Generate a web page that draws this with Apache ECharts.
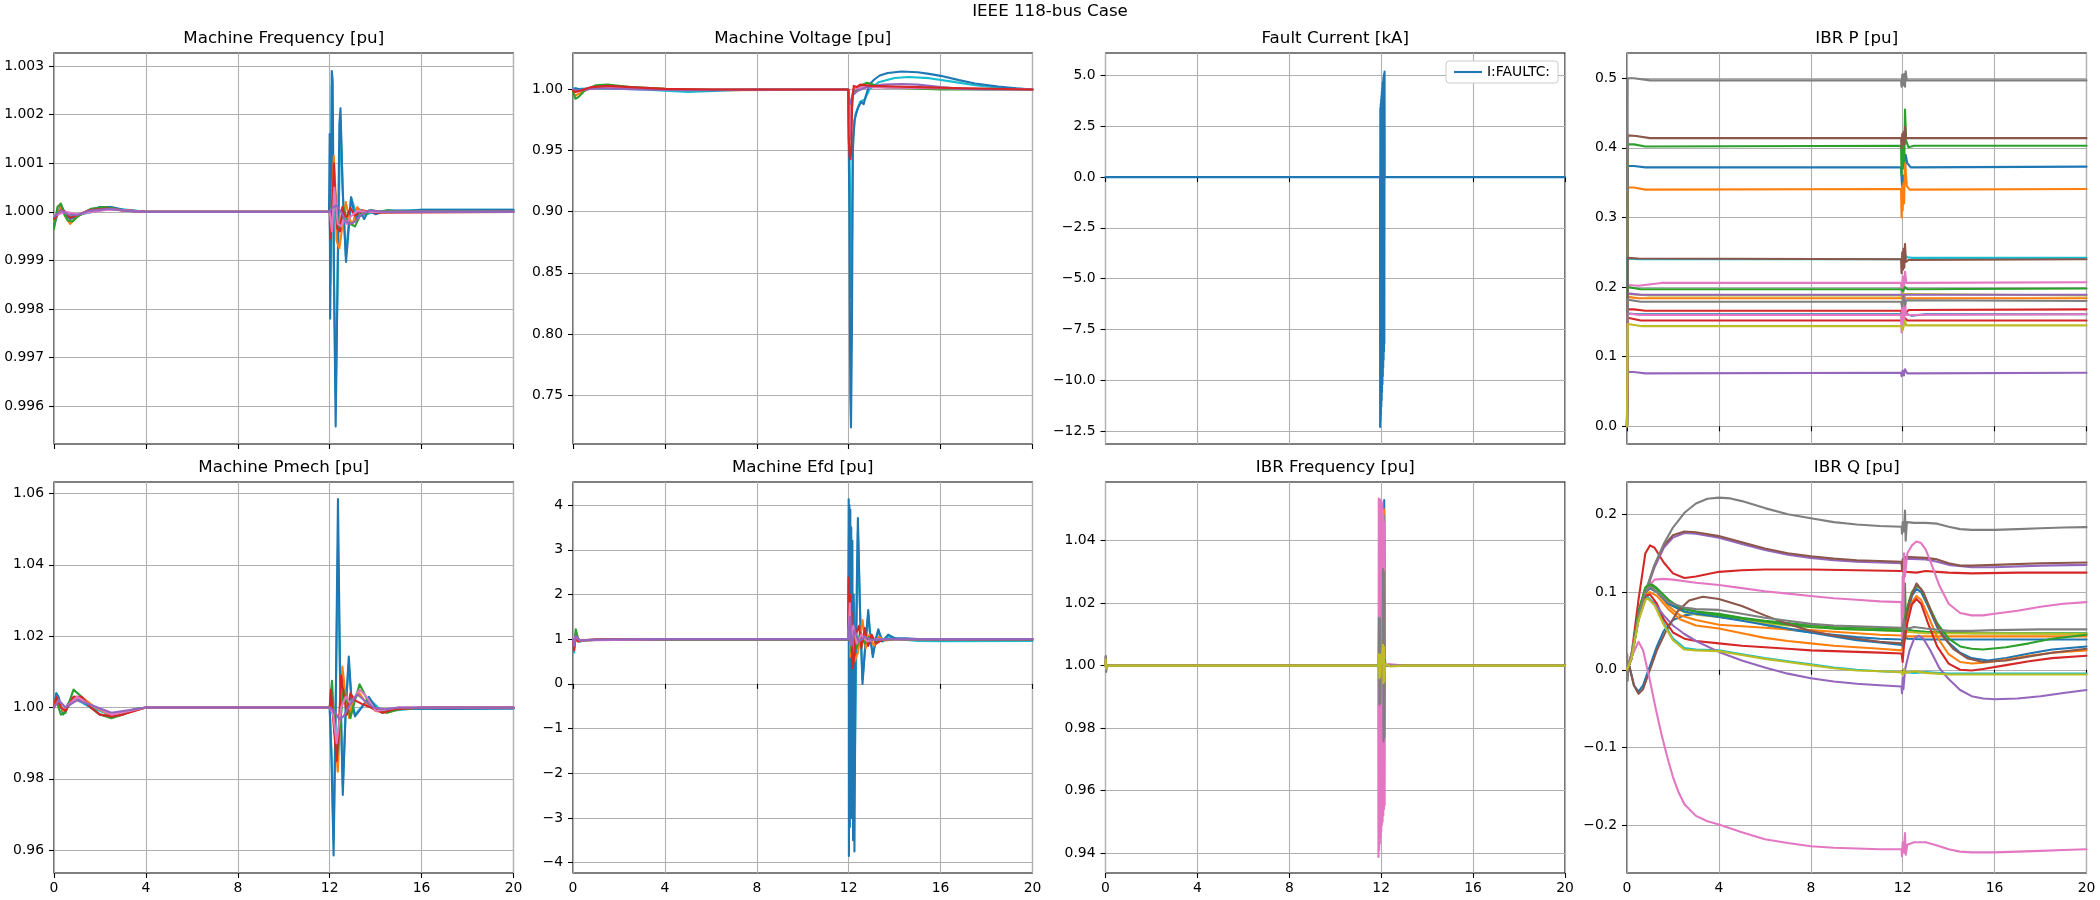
<!DOCTYPE html>
<html><head><meta charset="utf-8">
<script src="https://cdn.jsdelivr.net/npm/echarts@6/dist/echarts.min.js"></script>
<style>html,body{margin:0;padding:0;background:#fff}#c{width:2100px;height:900px}</style>
</head><body><div id="c"></div><script>
// ---------------- tick values / ranges ----------------
const xTicks = [0, 4, 8, 12, 16, 20];
const mfTicks = [0.996, 0.997, 0.998, 0.999, 1.000, 1.001, 1.002, 1.003];
const mvTicks = [0.75, 0.80, 0.85, 0.90, 0.95, 1.00];
const fcTicks = [-12.5, -10, -7.5, -5, -2.5, 0, 2.5, 5];
const ipTicks = [0, 0.1, 0.2, 0.3, 0.4, 0.5];
const pmTicks = [0.96, 0.98, 1.00, 1.02, 1.04, 1.06];
const efTicks = [-4, -3, -2, -1, 0, 1, 2, 3, 4];
const ifTicks = [0.94, 0.96, 0.98, 1.00, 1.02, 1.04];
const iqTicks = [-0.2, -0.1, 0, 0.1, 0.2];
const mfRange = [0.99522, 1.00327];
const mvRange = [0.7099, 1.0299];
const fcRange = [-13.14, 6.11];
const ipRange = [-0.0254, 0.5363];
const pmRange = [0.9536, 1.0632];
const efRange = [-4.231, 4.516];
const ifRange = [0.9336, 1.0588];
const iqRange = [-0.2615, 0.2416];

// ---------------- Machine Frequency ----------------
const mfCyan = [[0,0.9998],[0.3,1.0001],[0.6,0.9999],[1,0.99993],[2.5,1.00008],[4,1.0],[12,1.0],[12.03,0.9985],[12.09,1.0026],[12.18,0.9988],[12.26,0.9962],[12.35,0.9988],[12.47,1.0019],[12.6,1.0],[12.7,0.9991],[12.93,1.0003],[13.2,0.9999],[14,1.0],[16,1.00004],[20,1.00004]];
const mfBlue = [[0,0.9997],[0.15,0.99995],[0.3,1.00015],[0.5,0.99995],[0.7,0.99985],[1.0,0.9999],[1.5,1.00002],[2.0,1.0001],[2.5,1.0001],[3.0,1.00004],[4,1.0],[11.97,1.0],[12.0,1.0016],[12.02,0.9978],[12.05,0.9992],[12.09,1.0029],[12.13,1.0027],[12.19,0.9985],[12.26,0.99558],[12.34,0.9985],[12.42,1.0018],[12.47,1.00213],[12.56,1.0005],[12.71,0.99897],[12.82,0.9996],[12.93,1.0003],[13.05,1.0],[13.15,0.99985],[13.3,1.00005],[13.5,0.99985],[13.7,1.00003],[14,0.99995],[14.5,1.00003],[15.5,1.00002],[16,1.00004],[20,1.00004]];
const mfOrange = [[0,0.9998],[0.3,1.0001],[0.5,0.9999],[0.7,0.99975],[1,0.9999],[1.5,1.00003],[2.2,1.00009],[3,1.00003],[4,1.0],[12,1.0],[12.05,0.9996],[12.1,1.0003],[12.18,1.00115],[12.25,1.0004],[12.3,0.9994],[12.42,0.99925],[12.55,0.9997],[12.7,1.0002],[12.85,0.99985],[13.0,0.99975],[13.2,1.0001],[13.4,0.99995],[13.8,1.00002],[14.5,1.0],[20,1.0]];
const mfGreen = [[0,0.99965],[0.15,1.0001],[0.3,1.00017],[0.45,0.99995],[0.6,0.99982],[0.8,0.9998],[1.1,0.99993],[1.6,1.00006],[2.2,1.0001],[3,1.00003],[4,1.0],[12,1.0],[12.04,0.99985],[12.1,1.0002],[12.2,1.0006],[12.3,1.0],[12.45,0.9996],[12.6,1.0001],[12.75,0.99985],[12.9,0.99975],[13.1,0.9997],[13.25,0.99985],[13.4,1.00003],[13.6,0.99995],[13.8,1.00004],[14.1,1.0],[14.5,1.00003],[15,1.0],[20,1.0]];
const mfRed = [[0,0.99985],[0.3,1.00003],[0.5,1.0],[0.7,0.99988],[1,0.99993],[1.5,1.00003],[2.3,1.00007],[3,1.00003],[4,1.0],[12,1.0],[12.02,0.99945],[12.08,0.9997],[12.18,1.001],[12.25,1.0003],[12.33,0.99965],[12.45,0.9996],[12.55,1.0001],[12.65,0.9999],[12.75,0.9999],[12.9,1.00008],[13.1,0.99992],[13.4,1.00003],[14,0.99998],[20,1.0]];
const mfPink = [[0,0.99992],[0.5,1.0],[1,0.99995],[2.4,1.00005],[4,1.0],[12,1.0],[12.1,0.9996],[12.2,1.0005],[12.35,0.99975],[12.5,0.9997],[12.6,0.99985],[12.75,0.99975],[12.9,0.9999],[13.2,1.00002],[13.6,1.0],[20,1.0]];
const mfPurple = [[0,0.9999],[0.3,1.00003],[0.6,0.99995],[1,0.99993],[1.5,1.00002],[2.4,1.00006],[3.2,1.00002],[4,1.0],[12,1.0],[12.1,1.00008],[12.3,1.00013],[12.5,1.0],[12.7,0.9998],[12.9,0.99975],[13.1,0.9998],[13.4,0.99995],[13.8,1.00003],[14.3,1.0],[20,1.0]];

// ---------------- Machine Voltage ----------------
const mvCyan = [[0,1.001],[0.3,1.0005],[1,1.001],[3,1.0],[5,0.998],[7,0.9995],[8,1.0],[11.98,1.0],[12.05,0.93],[12.1,0.83],[12.14,0.87],[12.18,0.96],[12.3,0.98],[12.5,0.99],[12.7,0.992],[12.9,1.0],[13.3,1.006],[14,1.0095],[14.6,1.0102],[15.5,1.0093],[16.5,1.0065],[17.5,1.0035],[18.5,1.0015],[20,1.0]];
const mvBlue = [[0,1.0],[0.1,1.001],[0.3,1.0],[1,1.0015],[2,1.001],[4,1.0],[6,0.9995],[8,1.0],[11.98,1.0],[12.03,0.9],[12.07,0.75],[12.1,0.7235],[12.14,0.8],[12.18,0.95],[12.25,0.975],[12.4,0.985],[12.55,0.99],[12.65,0.988],[12.75,0.995],[12.9,1.004],[13.1,1.008],[13.35,1.0115],[13.7,1.0135],[14.3,1.0148],[15,1.0142],[15.5,1.0128],[16,1.0112],[16.8,1.0077],[17.5,1.005],[18.5,1.0025],[19.3,1.001],[20,1.0]];
const mvOrange = [[0,0.998],[0.1,0.995],[0.3,0.997],[0.7,1.001],[1.5,1.003],[3,1.001],[5,1.0],[7,0.9995],[11.98,1.0],[12.03,0.975],[12.08,0.97],[12.12,0.99],[12.2,1.0],[12.5,1.003],[13,1.003],[14,1.002],[16,1.001],[20,1.0]];
const mvGreen = [[0,0.998],[0.1,0.9925],[0.25,0.994],[0.5,0.999],[1,1.0035],[1.5,1.004],[2.5,1.002],[4,1.0005],[6,1.0],[11.98,1.0],[12.03,0.97],[12.08,0.96],[12.12,0.98],[12.2,0.998],[12.4,1.0],[12.6,1.004],[12.8,1.0055],[13.1,1.004],[13.5,1.002],[14.5,1.001],[16,1.0],[20,1.0]];
const mvPink = [[0,1.0],[0.1,0.998],[0.5,1.0],[1.5,1.002],[4,1.0],[11.98,1.0],[12.03,0.965],[12.08,0.96],[12.12,0.985],[12.2,1.0],[12.6,1.002],[14,1.0015],[20,1.0]];
const mvPurple = [[0,1.0],[0.2,0.999],[1,1.001],[3,1.0],[5,0.9995],[11.98,1.0],[12.03,0.99],[12.08,0.988],[12.15,0.995],[12.4,0.999],[12.8,1.002],[13.5,1.004],[14.3,1.0045],[15,1.004],[16,1.002],[17,1.0005],[18,1.0],[20,1.0]];
const mvRed = [[0,0.999],[0.1,0.998],[0.3,0.999],[0.8,1.002],[1.5,1.003],[2.5,1.002],[4,1.0005],[6,1.0],[11.98,1.0],[12.0,0.96],[12.04,0.945],[12.08,0.943],[12.11,0.95],[12.15,0.99],[12.22,1.003],[12.35,1.002],[12.5,1.004],[13,1.003],[14,1.0025],[15,1.002],[17,1.001],[20,1.0]];

// ---------------- Fault Current ----------------
const fcName = 'I:FAULTC:';
const fcBlue = [[0,0],[11.95,0],[11.954,-12.3],[11.962,3.4],[11.971,-12.0],[11.979,3.6],[11.987,-11.7],[11.996,3.8],[12.004,-11.3],[12.012,4.0],[12.021,-11.0],[12.029,4.2],[12.037,-10.6],[12.046,4.4],[12.054,-10.2],[12.062,4.6],[12.071,-9.8],[12.079,4.7],[12.087,-9.4],[12.096,4.9],[12.104,-9.0],[12.112,5.0],[12.121,-8.6],[12.129,5.1],[12.137,-8.2],[12.146,5.2],[12.154,0],[20,0]];

// ---------------- IBR P ----------------
const ip01 = [[0,0],[0.03,0.374],[0.3,0.374],[0.8,0.372],[11.93,0.372],[11.97,0.345],[12.02,0.36],[12.08,0.35],[12.13,0.39],[12.2,0.378],[12.35,0.372],[20,0.373]];
const ip02 = [[0,0],[0.03,0.343],[0.3,0.343],[0.8,0.34],[11.93,0.341],[11.95,0.3],[11.98,0.345],[12.0,0.31],[12.03,0.35],[12.06,0.32],[12.1,0.38],[12.18,0.345],[12.3,0.34],[20,0.341]];
const ip03 = [[0,0],[0.03,0.405],[0.3,0.405],[0.8,0.402],[11.93,0.403],[11.95,0.36],[11.98,0.4],[12.01,0.37],[12.04,0.41],[12.07,0.38],[12.1,0.455],[12.15,0.41],[12.25,0.401],[12.5,0.403],[20,0.403]];
const ip04 = [[0,0],[0.03,0.168],[0.3,0.168],[0.8,0.166],[11.93,0.166],[11.97,0.158],[12.05,0.174],[12.12,0.162],[12.25,0.167],[20,0.168]];
const ip05 = [[0,0],[0.03,0.078],[0.3,0.078],[0.8,0.076],[11.93,0.077],[11.95,0.072],[12.0,0.08],[12.05,0.073],[12.1,0.082],[12.2,0.076],[20,0.077]];
const ip06 = [[0,0],[0.03,0.418],[0.4,0.417],[1.0,0.414],[11.93,0.414],[11.95,0.4],[11.98,0.42],[12.01,0.405],[12.04,0.423],[12.08,0.405],[12.1,0.43],[12.15,0.414],[20,0.414]];
const ip07 = [[0,0],[0.03,0.203],[0.5,0.202],[1.5,0.206],[11.93,0.206],[11.96,0.19],[12.0,0.215],[12.05,0.195],[12.1,0.222],[12.16,0.206],[20,0.207]];
const ip08 = [[0,0],[0.03,0.5],[0.3,0.5],[1,0.497],[11.93,0.497],[11.95,0.488],[11.98,0.505],[12.02,0.49],[12.06,0.506],[12.1,0.488],[12.13,0.51],[12.18,0.497],[20,0.497]];
const ip09 = [[0,0],[0.03,0.19],[1,0.188],[11.93,0.188],[11.97,0.183],[12.02,0.193],[12.08,0.185],[12.12,0.19],[20,0.188]];
const ip10 = [[0,0],[0.03,0.241],[0.5,0.24],[11.93,0.24],[12.0,0.236],[12.1,0.246],[12.2,0.243],[12.4,0.242],[20,0.242]];
const ip11 = [[0,0],[0.03,0.162],[0.5,0.161],[11.93,0.161],[12.2,0.161],[12.4,0.159],[13,0.161],[20,0.161]];
const ip12 = [[0,0],[0.03,0.186],[0.5,0.184],[20,0.184]];
const ip13 = [[0,0],[0.03,0.2],[0.6,0.197],[11.93,0.197],[12.0,0.194],[12.1,0.2],[12.2,0.197],[20,0.198]];
const ip14 = [[0,0],[0.03,0.156],[0.6,0.152],[11.93,0.152],[12.05,0.148],[12.12,0.155],[12.2,0.152],[20,0.152]];
const ip15 = [[0,0],[0.03,0.191],[0.6,0.189],[20,0.189]];
const ip16 = [[0,0],[0.03,0.242],[0.5,0.241],[11.93,0.24],[11.95,0.22],[11.98,0.25],[12.01,0.225],[12.04,0.255],[12.07,0.228],[12.1,0.262],[12.14,0.236],[12.25,0.239],[20,0.24]];
const ip17 = [[0,0],[0.03,0.162],[0.6,0.16],[11.93,0.16],[11.95,0.135],[11.98,0.175],[12.01,0.14],[12.04,0.18],[12.07,0.15],[12.1,0.185],[12.14,0.16],[20,0.161]];
const ip18 = [[0,0],[0.03,0.182],[0.6,0.179],[11.93,0.179],[11.97,0.172],[12.03,0.188],[12.1,0.174],[12.15,0.181],[20,0.18]];
const ip19 = [[0,0],[0.03,0.147],[0.6,0.144],[11.93,0.144],[12.0,0.138],[12.1,0.152],[12.15,0.145],[20,0.145]];

// ---------------- Machine Pmech ----------------
const pmCyan = [[0,1.0],[0.1,1.004],[0.4,0.9985],[0.9,1.0025],[1.6,1.0],[2.5,0.9978],[4,1.0],[12.0,1.0],[12.08,0.987],[12.17,0.963],[12.26,1.0],[12.36,1.045],[12.45,1.008],[12.57,0.978],[12.7,1.0],[12.83,1.012],[12.95,1.002],[13.1,0.998],[13.7,1.0025],[14.3,0.9988],[15.5,0.9996],[20,0.9997]];
const pmBlue = [[0,1.0],[0.1,1.004],[0.2,1.003],[0.4,0.998],[0.6,1.001],[0.9,1.003],[1.2,1.002],[1.6,1.0],[2.0,0.998],[2.5,0.9975],[3,0.998],[3.5,0.9995],[4,1.0],[12.0,1.0],[12.08,0.985],[12.17,0.9585],[12.26,1.0],[12.36,1.0584],[12.45,1.01],[12.57,0.9755],[12.7,1.0],[12.83,1.0143],[12.95,1.002],[13.1,0.9975],[13.4,1.0],[13.7,1.003],[14.0,1.0],[14.3,0.9985],[14.8,0.9995],[15.5,0.9997],[17,0.9996],[20,0.9997]];
const pmOrange = [[0,1.0],[0.1,1.003],[0.4,0.999],[0.8,1.002],[1.2,1.003],[1.8,1.0],[2.5,0.9978],[3.2,0.9985],[4,1.0],[12,1.0],[12.1,1.003],[12.2,0.995],[12.35,0.982],[12.45,0.995],[12.55,1.0115],[12.7,1.003],[12.85,0.997],[13.0,1.002],[13.3,1.004],[13.6,1.001],[14.0,0.999],[14.5,0.9985],[15,0.9995],[16,1.0],[20,1.0]];
const pmGreen = [[0,1.0],[0.1,1.002],[0.3,0.998],[0.5,0.9985],[0.85,1.005],[1.2,1.003],[1.6,1.0],[2.0,0.998],[2.5,0.997],[3,0.998],[3.5,0.9995],[4,1.0],[12,1.0],[12.1,1.0075],[12.2,0.995],[12.3,0.985],[12.45,0.995],[12.6,1.005],[12.75,1.002],[12.9,0.997],[13.1,1.002],[13.3,1.0065],[13.5,1.004],[13.8,1.0],[14.2,0.999],[14.5,0.9985],[15,0.9995],[16,1.0],[20,1.0]];
const pmRed = [[0,1.0],[0.1,1.003],[0.3,1.0],[0.5,0.999],[0.85,1.003],[1.2,1.003],[1.6,1.0],[2.0,0.998],[2.5,0.9975],[3,0.998],[4,1.0],[12,1.0],[12.05,1.005],[12.15,0.997],[12.3,0.985],[12.4,0.995],[12.5,1.009],[12.6,1.004],[12.75,0.998],[12.9,1.004],[13.1,1.002],[13.4,1.001],[13.8,1.0],[14.3,0.9985],[14.8,0.9995],[16,1.0],[20,1.0]];
const pmPink = [[0,1.0],[0.2,1.002],[0.5,1.0],[1.0,1.003],[1.5,1.001],[2.5,0.998],[4,1.0],[12,1.0],[12.15,0.998],[12.3,0.99],[12.5,1.0],[12.7,1.003],[12.9,1.001],[13.3,1.005],[13.6,1.003],[14,0.999],[15,1.0],[20,1.0]];
const pmPurple = [[0,1.0],[0.2,1.002],[0.5,1.0],[1.0,1.002],[1.5,1.001],[2.5,0.9985],[3.5,0.9995],[4,1.0],[12,1.0],[12.2,0.999],[12.42,0.9967],[12.6,0.9975],[12.9,1.001],[13.2,1.0037],[13.5,1.002],[13.9,1.0],[14.4,0.9995],[15,1.0],[20,1.0]];

// ---------------- Machine Efd ----------------
const efCyan = [[0,1.0],[0.05,0.7],[0.1,1.0],[0.4,0.97],[1,0.98],[4,0.99],[11.98,0.99],[12.02,3.9],[12.05,-2.5],[12.1,3.3],[12.15,-2.0],[12.22,1.8],[12.27,-1.5],[12.4,3.4],[12.5,1.5],[12.6,0.1],[12.73,0.9],[12.85,1.55],[12.95,1.0],[13.05,0.65],[13.29,1.18],[13.5,0.95],[13.72,1.06],[14.2,1.0],[15,0.96],[16,0.955],[20,0.96]];
const efBlue = [[0,1.0],[0.05,0.8],[0.12,1.1],[0.3,0.95],[0.6,0.98],[1,0.99],[4,1.0],[11.98,1.0],[12.0,4.13],[12.01,-3.85],[12.03,4.0],[12.05,-3.2],[12.07,3.9],[12.09,-2.9],[12.11,3.5],[12.13,-3.0],[12.16,3.2],[12.19,-3.5],[12.22,2.0],[12.25,-3.75],[12.3,0.5],[12.4,3.71],[12.5,1.5],[12.6,0.0],[12.73,0.9],[12.85,1.65],[12.95,1.0],[13.05,0.6],[13.17,1.0],[13.29,1.22],[13.45,0.95],[13.72,1.1],[14.0,1.02],[14.5,1.02],[15,1.0],[16,0.98],[20,0.98]];
const efOrange = [[0,1.0],[0.05,0.85],[0.12,1.1],[0.3,0.96],[1,0.99],[4,1.0],[11.98,1.0],[12.02,1.6],[12.08,0.6],[12.15,1.2],[12.25,0.5],[12.4,0.7],[12.6,1.43],[12.75,0.8],[12.9,1.1],[13.1,0.85],[13.3,1.05],[13.6,0.97],[14,1.0],[20,1.0]];
const efGreen = [[0,1.0],[0.05,0.9],[0.12,1.22],[0.25,0.95],[0.5,0.97],[1,0.98],[4,0.99],[11.98,0.99],[12.05,1.3],[12.12,0.7],[12.2,1.1],[12.35,0.8],[12.5,1.15],[12.7,0.9],[12.9,1.05],[13.2,0.95],[13.5,1.0],[20,0.99]];
const efRed = [[0,1.0],[0.04,0.75],[0.1,1.05],[0.2,0.95],[0.5,0.98],[1,0.99],[4,1.0],[11.98,1.0],[12.0,2.38],[12.03,1.3],[12.06,2.0],[12.09,0.9],[12.12,1.6],[12.16,0.35],[12.22,0.5],[12.3,1.1],[12.45,1.3],[12.55,0.8],[12.7,1.25],[12.85,0.85],[13.0,1.1],[13.2,0.9],[13.5,1.0],[20,1.0]];
const efPink = [[0,1.0],[0.1,1.05],[0.3,0.97],[4,1.0],[11.98,1.0],[12.05,1.8],[12.1,0.9],[12.2,1.3],[12.35,0.9],[12.55,1.1],[12.8,0.95],[13.2,1.0],[20,1.0]];
const efPurple = [[0,1.0],[0.05,0.85],[0.12,1.08],[0.3,0.97],[1,0.99],[4,1.0],[11.98,1.0],[12.05,1.5],[12.12,0.85],[12.25,1.2],[12.45,0.95],[12.7,1.05],[13,0.98],[13.5,1.0],[20,1.0]];

// ---------------- IBR Frequency ----------------
const ifBlue = [[0,1.0],[12.11,1.0],[12.13,1.053],[12.15,1.0],[20,1.0]];
const ifOrange = [[0,1.0],[12.11,1.0],[12.13,1.05],[12.15,1.0],[20,1.0]];
const ifGreen = [[0,1.0],[12.11,1.0],[12.13,1.048],[12.15,1.0],[20,1.0]];
const ifBrown = [[0,1.0],[0.01,1.003],[0.03,0.999],[0.05,1.0],[20,1.0]];
const ifPink = [[0,1.0],[11.87,1.0],[11.88,0.9387],[11.895,1.0535],[11.91,0.941],[11.925,1.053],[11.94,0.943],[11.955,1.0532],[11.97,0.945],[11.985,1.053],[12.0,0.947],[12.015,1.0525],[12.03,0.949],[12.045,1.052],[12.06,0.95],[12.075,1.05],[12.09,0.952],[12.105,1.048],[12.12,0.954],[12.135,1.046],[12.15,0.9553],[12.16,1.0],[12.3,1.0005],[13,1.0],[20,1.0]];
const ifGray = [[0,1.0],[0.01,1.003],[0.03,0.998],[0.06,1.0],[11.88,1.0],[11.9,1.0153],[11.92,0.9875],[11.94,1.015],[11.96,0.988],[11.97,1.0],[12.06,1.0],[12.08,1.0309],[12.1,0.9757],[12.12,1.03],[12.14,0.977],[12.16,1.002],[12.2,1.0],[20,1.0]];
const ifOlive = [[0,1.0],[0.01,1.002],[0.03,0.999],[0.06,1.0],[11.88,1.0],[11.9,1.0037],[11.92,0.996],[11.94,1.0035],[11.96,0.9965],[11.98,1.0],[12.06,1.0],[12.08,1.0067],[12.1,0.9944],[12.12,1.006],[12.14,0.995],[12.17,1.0005],[12.4,0.9997],[13,1.0],[20,1.0]];

// ---------------- IBR Q ----------------
const iq01 = [[0,0],[0.1,0.005],[0.3,-0.02],[0.5,-0.028],[0.7,-0.02],[1.0,0.005],[1.3,0.03],[1.6,0.05],[2.0,0.064],[2.5,0.07],[3,0.072],[3.5,0.072],[4,0.071],[5,0.065],[6,0.058],[7,0.052],[8,0.048],[9,0.045],[10,0.042],[11,0.04],[11.95,0.039],[12.0,0.035],[12.1,0.045],[12.2,0.04],[13,0.039],[20,0.039]];
const iq02 = [[0,0],[0.2,0.015],[0.5,0.07],[0.8,0.098],[1.0,0.105],[1.3,0.1],[1.8,0.082],[2.3,0.07],[3,0.064],[4,0.058],[5,0.056],[6,0.054],[7,0.052],[8,0.051],[9,0.049],[10,0.047],[11,0.045],[11.95,0.044],[12.1,0.043],[13,0.043],[20,0.043]];
const iq03 = [[0,0],[0.2,0.015],[0.5,0.075],[0.8,0.105],[1.0,0.112],[1.3,0.105],[1.8,0.09],[2.3,0.079],[3,0.075],[4,0.072],[5,0.067],[6,0.063],[7,0.06],[8,0.057],[9,0.055],[10,0.054],[11,0.053],[11.95,0.052],[12.0,0.045],[12.05,0.06],[12.1,0.111],[12.13,0.07],[12.2,0.052],[12.5,0.05],[13,0.049],[14,0.048],[15,0.047],[20,0.047]];
const iq04 = [[0,0],[0.2,0.02],[0.5,0.09],[0.8,0.15],[1.0,0.16],[1.2,0.157],[1.6,0.138],[2,0.124],[2.5,0.118],[3,0.12],[4,0.126],[5,0.128],[6,0.129],[8,0.129],[10,0.128],[11.95,0.127],[12.2,0.126],[12.6,0.125],[13,0.127],[13.5,0.126],[14,0.125],[15,0.124],[17,0.125],[20,0.125]];
const iq05 = [[0,0],[0.2,0.02],[0.5,0.064],[0.8,0.098],[1.2,0.132],[1.6,0.157],[2,0.17],[2.5,0.176],[3,0.175],[4,0.17],[5,0.162],[6,0.154],[7,0.148],[8,0.144],[9,0.141],[10,0.139],[11,0.138],[11.95,0.137],[12.1,0.143],[13,0.142],[13.5,0.139],[14,0.135],[15,0.132],[16,0.132],[18,0.134],[20,0.135]];
const iq06 = [[0,0],[0.2,0.02],[0.5,0.065],[0.8,0.1],[1.2,0.135],[1.6,0.16],[2.0,0.173],[2.5,0.178],[3.0,0.177],[4,0.172],[5,0.164],[6,0.156],[7,0.15],[8,0.146],[9,0.143],[10,0.141],[11,0.14],[11.95,0.139],[11.97,0.128],[12.0,0.142],[12.05,0.13],[12.1,0.145],[12.3,0.145],[13,0.144],[13.5,0.142],[14,0.137],[14.5,0.134],[15,0.134],[16,0.135],[18,0.137],[20,0.138]];
const iq07 = [[0,0],[0.2,0.02],[0.5,0.07],[0.8,0.103],[1.2,0.116],[1.6,0.117],[2,0.116],[3,0.112],[4,0.109],[5,0.105],[6,0.101],[7,0.098],[8,0.095],[9,0.092],[10,0.09],[11,0.088],[11.95,0.087],[11.97,0.04],[12.0,0.12],[12.03,0.06],[12.06,0.15],[12.1,0.12],[12.2,0.15],[12.4,0.16],[12.6,0.165],[12.8,0.163],[13,0.155],[13.3,0.132],[13.6,0.108],[14,0.085],[14.5,0.073],[15,0.07],[15.5,0.07],[16,0.072],[17,0.076],[18,0.081],[19,0.085],[20,0.087]];
const iq08 = [[0,0],[0.01,0.02],[0.03,-0.014],[0.06,0.005],[0.2,0.02],[0.5,0.065],[0.8,0.1],[1.2,0.135],[1.6,0.162],[2,0.183],[2.5,0.202],[3,0.214],[3.5,0.22],[4,0.2215],[4.5,0.2205],[5,0.217],[6,0.208],[7,0.2],[8,0.195],[9,0.19],[10,0.187],[11,0.185],[11.95,0.184],[11.97,0.175],[12.0,0.19],[12.05,0.178],[12.1,0.205],[12.13,0.166],[12.18,0.19],[12.5,0.189],[13,0.189],[13.5,0.188],[14,0.184],[14.5,0.181],[15,0.18],[16,0.18],[17,0.181],[18,0.182],[19,0.183],[20,0.1835]];
const iq09 = [[0,0],[0.2,0.015],[0.5,0.07],[0.8,0.1],[1.0,0.108],[1.3,0.1],[1.8,0.085],[2.5,0.074],[3,0.071],[4,0.068],[5,0.064],[6,0.06],[7,0.057],[8,0.055],[9,0.053],[10,0.052],[11,0.051],[11.95,0.05],[12.1,0.049],[13,0.047],[20,0.046]];
const iq10 = [[0,0],[0.2,0.015],[0.5,0.065],[0.8,0.092],[0.9,0.094],[1.2,0.085],[1.6,0.06],[2.0,0.04],[2.5,0.028],[3,0.026],[4,0.025],[5,0.02],[6,0.015],[7,0.011],[8,0.007],[9,0.003],[10,0.0],[11,-0.002],[11.95,-0.003],[12.1,-0.003],[12.5,-0.004],[13,-0.003],[14,-0.005],[20,-0.005]];
const iq11 = [[0,0],[0.2,0.015],[0.5,0.07],[0.8,0.1],[1.0,0.105],[1.3,0.1],[1.8,0.085],[2.5,0.075],[3,0.072],[4,0.068],[5,0.063],[6,0.058],[7,0.053],[8,0.048],[9,0.043],[10,0.038],[11,0.035],[11.95,0.032],[12.05,0.04],[12.2,0.07],[12.4,0.095],[12.6,0.104],[12.8,0.1],[13.1,0.082],[13.5,0.055],[14,0.035],[14.5,0.022],[15,0.015],[15.7,0.012],[16.5,0.015],[17.5,0.021],[18.5,0.026],[20,0.03]];
const iq12 = [[0,0],[0.2,0.015],[0.5,0.068],[0.8,0.096],[1.0,0.1],[1.3,0.095],[1.8,0.078],[2.3,0.065],[3,0.057],[4,0.053],[5,0.047],[6,0.041],[7,0.037],[8,0.034],[9,0.031],[10,0.029],[11,0.027],[11.95,0.025],[12.05,0.035],[12.2,0.065],[12.4,0.087],[12.6,0.095],[12.8,0.09],[13.1,0.07],[13.5,0.042],[14,0.02],[14.5,0.01],[15,0.008],[15.5,0.009],[16.5,0.013],[17.5,0.018],[18.5,0.022],[20,0.025]];
const iq13 = [[0,0],[0.2,0.015],[0.5,0.075],[0.8,0.106],[1.0,0.11],[1.3,0.104],[1.8,0.09],[2.3,0.08],[3,0.075],[4,0.07],[5,0.066],[6,0.062],[7,0.058],[8,0.055],[9,0.053],[10,0.052],[11,0.051],[11.95,0.05],[12.05,0.06],[12.2,0.08],[12.4,0.1],[12.6,0.108],[12.8,0.104],[13.1,0.085],[13.5,0.06],[14,0.04],[14.5,0.03],[15,0.027],[15.5,0.026],[16.5,0.029],[17.5,0.034],[18.5,0.04],[20,0.045]];
const iq14 = [[0,0],[0.2,0.015],[0.5,0.066],[0.8,0.095],[1.0,0.097],[1.3,0.085],[1.6,0.065],[2.0,0.048],[2.5,0.04],[3,0.037],[4,0.034],[5,0.031],[6,0.029],[7,0.027],[8,0.025],[9,0.024],[10,0.023],[11,0.022],[11.95,0.021],[12.0,0.01],[12.05,0.03],[12.2,0.06],[12.4,0.084],[12.6,0.091],[12.8,0.085],[13.1,0.06],[13.5,0.03],[14,0.008],[14.5,0.0],[15,-0.001],[15.5,0.001],[16.5,0.006],[17.5,0.011],[18.5,0.015],[20,0.018]];
const iq15 = [[0,0],[0.2,0.015],[0.5,0.065],[0.8,0.09],[0.9,0.092],[1.2,0.085],[1.6,0.07],[2.0,0.057],[2.5,0.046],[3,0.037],[4,0.023],[5,0.012],[6,0.003],[7,-0.005],[8,-0.011],[9,-0.015],[10,-0.018],[11,-0.02],[11.95,-0.0215],[11.97,-0.03],[12.0,-0.01],[12.03,-0.025],[12.1,0.0],[12.3,0.025],[12.5,0.04],[12.7,0.044],[12.9,0.04],[13.2,0.025],[13.6,0.002],[14,-0.012],[14.5,-0.026],[15,-0.034],[15.5,-0.037],[16,-0.038],[17,-0.037],[18,-0.034],[19,-0.03],[20,-0.026]];
const iq16 = [[0,0],[0.1,0.005],[0.3,-0.02],[0.5,-0.031],[0.7,-0.025],[1.0,0.0],[1.3,0.025],[1.7,0.05],[2.2,0.075],[2.7,0.089],[3.3,0.094],[4,0.091],[5,0.082],[6,0.07],[7,0.059],[8,0.05],[9,0.044],[10,0.04],[11,0.036],[11.95,0.034],[12.0,0.03],[12.1,0.06],[12.3,0.09],[12.6,0.111],[12.9,0.1],[13.3,0.07],[13.7,0.045],[14.2,0.027],[14.8,0.015],[15.5,0.01],[16.5,0.012],[17.5,0.017],[18.5,0.022],[20,0.027]];
const iq17 = [[0,0],[0.25,0.02],[0.5,0.036],[0.7,0.025],[1.0,-0.014],[1.25,-0.05],[1.5,-0.083],[1.75,-0.112],[2,-0.138],[2.25,-0.158],[2.5,-0.173],[3,-0.188],[3.5,-0.195],[4,-0.199],[5,-0.209],[6,-0.218],[7,-0.223],[8,-0.227],[9,-0.229],[10,-0.23],[11,-0.231],[11.95,-0.231],[11.97,-0.24],[12.0,-0.222],[12.05,-0.235],[12.1,-0.21],[12.13,-0.238],[12.2,-0.225],[12.5,-0.222],[13,-0.222],[13.5,-0.226],[14,-0.231],[14.5,-0.234],[15,-0.235],[16,-0.235],[17,-0.234],[18,-0.233],[19,-0.232],[20,-0.231]];
const iq18 = [[0,0],[0.2,0.015],[0.5,0.07],[0.8,0.1],[1.0,0.107],[1.3,0.1],[1.8,0.087],[2.5,0.08],[3,0.078],[4,0.077],[5,0.072],[6,0.067],[7,0.063],[8,0.059],[9,0.057],[10,0.056],[11,0.055],[11.95,0.054],[12.0,0.05],[12.05,0.065],[12.1,0.052],[12.5,0.055],[13,0.053],[14,0.05],[15,0.05],[16,0.051],[18,0.052],[20,0.052]];
const iq19 = [[0,0],[0.2,0.015],[0.5,0.063],[0.8,0.09],[0.9,0.092],[1.2,0.083],[1.6,0.058],[2.0,0.038],[2.5,0.026],[3,0.025],[4,0.024],[5,0.019],[6,0.014],[7,0.01],[8,0.006],[9,0.002],[10,-0.001],[11,-0.002],[11.95,-0.003],[12.0,-0.007],[12.05,0.001],[12.1,-0.004],[12.5,-0.002],[13,-0.004],[14,-0.006],[20,-0.006]];

// ---------------- build ----------------
const C = ['#1f77b4','#ff7f0e','#2ca02c','#d62728','#9467bd','#8c564b','#e377c2','#7f7f7f','#bcbd22','#17becf'];
const FONT = 'DejaVu Sans';
const gridLeft = [54, 573, 1105.5, 1627];
const gridTop = [53, 482];
const gridW = 459.5, gridH = 391;

const ipAll = [ip01,ip02,ip03,ip04,ip05,ip06,ip07,ip08,ip09,ip10,ip11,ip12,ip13,ip14,ip15,ip16,ip17,ip18,ip19];
const iqAll = [iq01,iq02,iq03,iq04,iq05,iq06,iq07,iq08,iq09,iq10,iq11,iq12,iq13,iq14,iq15,iq16,iq17,iq18,iq19];

const panels = [
  {title:'Machine Frequency [pu]', r:0, c:0, range:mfRange, ticks:mfTicks, dec:3,
   lines:[[mfCyan,9],[mfBlue,0],[mfOrange,1],[mfGreen,2],[mfRed,3],[mfPink,6],[mfPurple,4]]},
  {title:'Machine Voltage [pu]', r:0, c:1, range:mvRange, ticks:mvTicks, dec:2,
   lines:[[mvCyan,9],[mvBlue,0],[mvOrange,1],[mvGreen,2],[mvPink,6],[mvPurple,4],[mvRed,3]]},
  {title:'Fault Current [kA]', r:0, c:2, range:fcRange, ticks:fcTicks, dec:1,
   lines:[[fcBlue,0,fcName]]},
  {title:'IBR P [pu]', r:0, c:3, range:ipRange, ticks:ipTicks, dec:1,
   lines: ipAll.map((d,k)=>[d, k%10])},
  {title:'Machine Pmech [pu]', r:1, c:0, range:pmRange, ticks:pmTicks, dec:2,
   lines:[[pmCyan,9],[pmBlue,0],[pmOrange,1],[pmGreen,2],[pmRed,3],[pmPink,6],[pmPurple,4]]},
  {title:'Machine Efd [pu]', r:1, c:1, range:efRange, ticks:efTicks, dec:0,
   lines:[[efCyan,9],[efBlue,0],[efOrange,1],[efGreen,2],[efRed,3],[efPink,6],[efPurple,4]]},
  {title:'IBR Frequency [pu]', r:1, c:2, range:ifRange, ticks:ifTicks, dec:2,
   lines:[[ifBrown,5],[ifBlue,0],[ifOrange,1],[ifGreen,2],[ifPink,6],[ifGray,7],[ifOlive,8]]},
  {title:'IBR Q [pu]', r:1, c:3, range:iqRange, ticks:iqTicks, dec:1,
   lines: iqAll.map((d,k)=>[d, k%10])}
];

const fmt = dec => v => { const s = Number(v).toFixed(dec); return (s.indexOf('-') === 0 ? '\u2212' + s.slice(1) : s); };

const grids = [], xAxes = [], yAxes = [], series = [];
const graphics = [{type:'text', x:1050, y:12, z:100, style:{text:'IEEE 118-bus Case', font:'16.7px "DejaVu Sans"', fill:'#000', align:'center', textAlign:'center', verticalAlign:'middle', textVerticalAlign:'middle'}}];
const tickStyle = {show:true, inside:false, length:5, lineStyle:{color:'#000', width:1.1}};
const splitStyle = {show:true, lineStyle:{color:'#b0b0b0', width:1.1}};

panels.forEach((p, i) => {
  const left = gridLeft[p.c], top = gridTop[p.r];
  grids.push({left:left, top:top, width:gridW, height:gridH, show:true, borderColor:'#000', borderWidth:1.1,
              backgroundColor:'#fff', containLabel:false, outerBoundsMode:'none'});
  xAxes.push({gridIndex:i, type:'value', min:0, max:20,
    axisLine:{show:false},
    axisTick:Object.assign({customValues:xTicks}, tickStyle),
    axisLabel:{show:p.r === 1, customValues:xTicks, formatter:fmt(0), color:'#000', fontSize:13.9, fontFamily:FONT, margin:8},
    splitLine:splitStyle});
  yAxes.push({gridIndex:i, type:'value', min:p.range[0], max:p.range[1],
    axisLine:{show:false},
    axisTick:Object.assign({customValues:p.ticks}, tickStyle),
    axisLabel:{customValues:p.ticks, formatter:fmt(p.dec), color:'#000', fontSize:13.9, fontFamily:FONT, margin:10},
    splitLine:splitStyle});
  p.lines.forEach((l, j) => {
    series.push({type:'line', name: l[2] || ('p' + i + '_' + j), xAxisIndex:i, yAxisIndex:i, data:l[0],
      showSymbol:false, symbol:'none', clip:true, silent:true, animation:false,
      lineStyle:{color:C[l[1]], width:2.1, join:'round', cap:'round'}, itemStyle:{color:C[l[1]]}});
  });
  graphics.push({type:'text', x:left + gridW / 2, y:top - 14, z:100,
    style:{text:p.title, font:'16.7px "DejaVu Sans"', fill:'#000', align:'center', textAlign:'center', verticalAlign:'middle', textVerticalAlign:'middle'}});
});

const chart = echarts.init(document.getElementById('c'), null, {renderer:'canvas'});
chart.setOption({
  backgroundColor:'#fff',
  animation:false,
  textStyle:{fontFamily:FONT},
  grid:grids, xAxis:xAxes, yAxis:yAxes, series:series,
  legend:{data:[{name:fcName, icon:'rect'}], left:1446, top:61, orient:'vertical',
    itemWidth:28, itemHeight:2.1, itemGap:0, padding:[4,8,4,8], z:50,
    backgroundColor:'#fff', borderColor:'#cccccc', borderWidth:1, borderRadius:3,
    selectedMode:false, textStyle:{fontSize:13.9, fontFamily:FONT, color:'#000'}},
  graphic:graphics
});
</script></body></html>
